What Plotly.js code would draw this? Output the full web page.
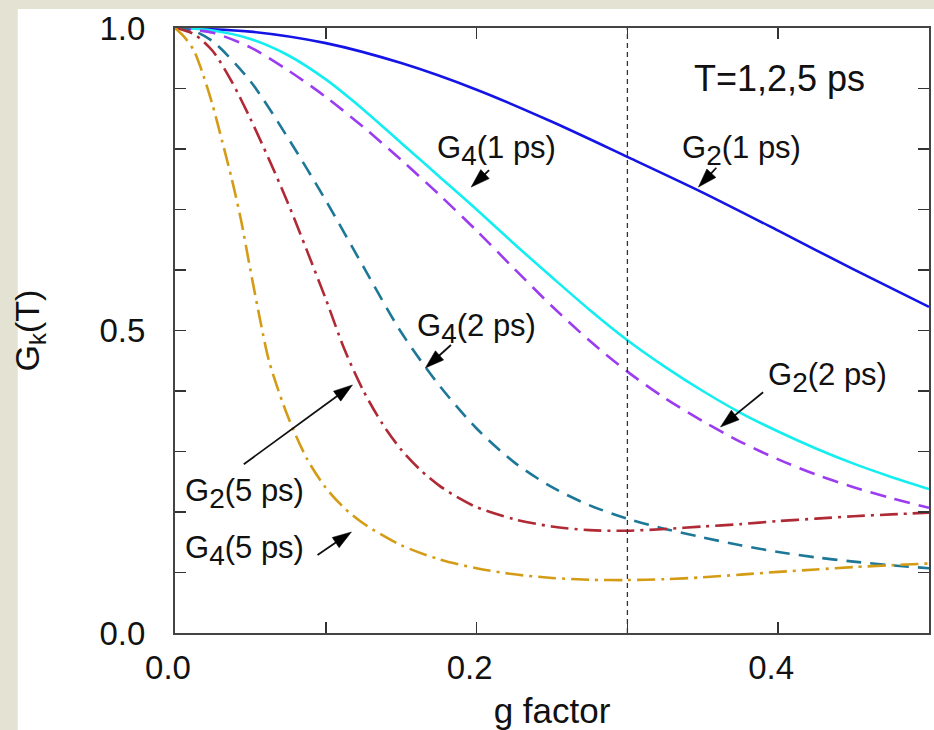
<!DOCTYPE html>
<html>
<head>
<meta charset="utf-8">
<script src="https://cdn.plot.ly/plotly-3.0.1.min.js"></script>
<style>
  html, body { margin: 0; padding: 0; background: #e4e3d3; }
  #chart { width: 934px; height: 730px; }
</style>
</head>
<body>
<div id="chart"></div>
<script>
// ---- data ----
const xG2_1ps = [0, 0.05, 0.1, 0.15, 0.2, 0.25, 0.3, 0.35, 0.4, 0.45, 0.5];
const yG2_1ps = [1.0, 0.994, 0.975, 0.942, 0.898, 0.845, 0.787, 0.728, 0.665, 0.601, 0.539];

const xG4_1ps = [0, 0.025, 0.05, 0.075, 0.1, 0.125, 0.15, 0.175, 0.2, 0.225, 0.25, 0.275, 0.3, 0.325, 0.35, 0.375, 0.4, 0.425, 0.45, 0.475, 0.5];
const yG4_1ps = [1.0, 0.996, 0.982, 0.955, 0.915, 0.865, 0.81, 0.755, 0.70, 0.643, 0.588, 0.534, 0.484, 0.44, 0.40, 0.364, 0.333, 0.305, 0.28, 0.258, 0.238];

const xG2_2ps = [0, 0.025, 0.05, 0.075, 0.1, 0.125, 0.15, 0.175, 0.2, 0.225, 0.25, 0.275, 0.3, 0.325, 0.35, 0.375, 0.4, 0.425, 0.45, 0.475, 0.5];
const yG2_2ps = [1.0, 0.992, 0.968, 0.93, 0.886, 0.836, 0.782, 0.725, 0.665, 0.602, 0.54, 0.483, 0.432, 0.388, 0.35, 0.316, 0.287, 0.262, 0.241, 0.223, 0.207];

const xG4_2ps = [0, 0.0125, 0.025, 0.05, 0.075, 0.1, 0.125, 0.15, 0.175, 0.2, 0.225, 0.25, 0.275, 0.3, 0.325, 0.35, 0.375, 0.4, 0.425, 0.45, 0.475, 0.5];
const yG4_2ps = [1.0, 0.995, 0.978, 0.912, 0.818, 0.715, 0.605, 0.497, 0.41, 0.338, 0.282, 0.241, 0.211, 0.189, 0.172, 0.158, 0.145, 0.134, 0.125, 0.118, 0.112, 0.107];

const xG2_5ps = [0, 0.0125, 0.025, 0.0375, 0.05, 0.0625, 0.075, 0.0875, 0.1, 0.1125, 0.125, 0.1375, 0.15, 0.1625, 0.175, 0.1875, 0.2, 0.225, 0.25, 0.275, 0.3, 0.325, 0.35, 0.375, 0.4, 0.425, 0.45, 0.475, 0.5];
const yG2_5ps = [1.0, 0.99, 0.962, 0.912, 0.85, 0.782, 0.71, 0.632, 0.552, 0.468, 0.40, 0.346, 0.303, 0.27, 0.244, 0.224, 0.208, 0.188, 0.176, 0.17, 0.169, 0.172, 0.176, 0.180, 0.185, 0.189, 0.193, 0.196, 0.199];

const xG4_5ps = [0, 0.00625, 0.0125, 0.01875, 0.025, 0.03125, 0.0375, 0.04375, 0.05, 0.05625, 0.0625, 0.075, 0.0875, 0.1, 0.1125, 0.125, 0.15, 0.175, 0.2, 0.225, 0.25, 0.275, 0.3, 0.325, 0.35, 0.375, 0.4, 0.425, 0.45, 0.475, 0.5];
const yG4_5ps = [1.0, 0.985, 0.963, 0.922, 0.872, 0.813, 0.752, 0.683, 0.60, 0.52, 0.448, 0.357, 0.288, 0.24, 0.206, 0.181, 0.145, 0.122, 0.107, 0.097, 0.091, 0.088, 0.0875, 0.089, 0.092, 0.0965, 0.101, 0.105, 0.109, 0.112, 0.115];

const refG = 0.3;   // dotted reference line

const xTickVals = [0, 0.2, 0.4];
const xTickText = ['0.0', '0.2', '0.4'];
const yTickVals = [0, 0.5, 1.0];
const yTickText = ['0.0', '0.5', '1.0'];
const xMinorStep = 0.1;
const yMinorStep = 0.1;

// labels
const labelTexts = ['G<sub>4</sub>(1 ps)', 'G<sub>2</sub>(1 ps)', 'T=1,2,5 ps', 'G<sub>4</sub>(2 ps)', 'G<sub>2</sub>(2 ps)', 'G<sub>2</sub>(5 ps)', 'G<sub>4</sub>(5 ps)'];
const labelSizes = [31, 31, 36, 31, 31, 31, 31];
const labelX = [0.213, 0.3755, 0.401, 0.1997, 0.4324, 0.0463, 0.0463];
const labelY = [0.798, 0.798, 0.917, 0.504, 0.4215, 0.2298, 0.137];

// arrows: tail -> tip
const arrowTailX = [0.2083, 0.359, 0.183, 0.390, 0.0456, 0.0945];
const arrowTailY = [0.765, 0.769, 0.476, 0.398, 0.279, 0.129];
const arrowTipX = [0.1964, 0.3471, 0.166, 0.3617, 0.1177, 0.117];
const arrowTipY = [0.737, 0.737, 0.438, 0.3405, 0.41, 0.167];

// ---- figure ----
const FONT = 'Liberation Sans, Arial, Helvetica, sans-serif';

function line(x, y, color, dash, name) {
  return { x: x, y: y, type: 'scatter', mode: 'lines', name: name,
           line: { color: color, width: 2.6, dash: dash, shape: 'spline', smoothing: 0.8 },
           hoverinfo: 'skip' };
}

const traces = [
  line(xG2_1ps, yG2_1ps, '#1414e6', 'solid', 'G2(1 ps)'),
  line(xG4_1ps, yG4_1ps, '#14eef0', 'solid', 'G4(1 ps)'),
  line(xG2_2ps, yG2_2ps, '#9c3cf0', '16px,9px', 'G2(2 ps)'),
  line(xG4_2ps, yG4_2ps, '#1d7898', '15px,9px', 'G4(2 ps)'),
  line(xG2_5ps, yG2_5ps, '#b02a36', '18px,6px,3px,6px', 'G2(5 ps)'),
  line(xG4_5ps, yG4_5ps, '#d49c14', '18px,6px,3px,6px', 'G4(5 ps)')
];

for (let i = 0; i < arrowTipX.length; i++) {
  traces.push({ x: [arrowTailX[i], arrowTipX[i]], y: [arrowTailY[i], arrowTipY[i]],
    type: 'scatter', mode: 'lines+markers', hoverinfo: 'skip', showlegend: false,
    line: { color: '#111', width: 1.8 },
    marker: { symbol: 'arrow', size: [0, 20], angleref: 'previous', color: '#000', opacity: 1,
              line: { width: 0.5, color: '#000' } } });
}

const subStyle = (t) => t.replace(/<sub>(.*?)<\/sub>/g, "<sub><span style='font-size:28px'>$1</span></sub>");

const annotations = [];
for (let i = 0; i < labelTexts.length; i++) {
  annotations.push({ x: labelX[i], y: labelY[i], xref: 'x', yref: 'y', text: subStyle(labelTexts[i]),
    showarrow: false, font: { family: FONT, size: labelSizes[i], color: '#111' }, xanchor: 'center', yanchor: 'middle' });
}

const axisCommon = {
  ticks: 'inside', ticklen: 11, tickwidth: 1.5, tickcolor: '#333',
  showline: true, linecolor: '#444', linewidth: 2, mirror: 'ticks',
  showgrid: false, zeroline: false,
  tickfont: { family: FONT, size: 33, color: '#111' }
};

const layout = {
  width: 934, height: 730,
  margin: { l: 175, r: 3, t: 28, b: 97 },
  paper_bgcolor: '#e4e3d3',
  plot_bgcolor: '#ffffff',
  showlegend: false,
  font: { family: FONT, size: 32, color: '#111' },
  xaxis: Object.assign({}, axisCommon, {
    range: [0, 0.5], tickmode: 'array', tickvals: xTickVals, ticktext: xTickText,
    minor: { dtick: xMinorStep, ticks: 'inside', ticklen: 11, tickwidth: 1.5, tickcolor: '#333', showgrid: false },
    ticklabelshift: -7, ticklabelstandoff: 4,
    title: { text: 'g factor', font: { family: FONT, size: 35, color: '#111' } }
  }),
  yaxis: Object.assign({}, axisCommon, {
    range: [0, 1], tickmode: 'array', tickvals: yTickVals, ticktext: yTickText,
    minor: { dtick: yMinorStep, ticks: 'inside', ticklen: 11, tickwidth: 1.5, tickcolor: '#333', showgrid: false },
    ticklabelstandoff: 21,
    automargin: true,
    title: { text: 'G<sub>k</sub>(T)', standoff: 50, font: { family: FONT, size: 34, color: '#111' } }
  }),
  shapes: [
    { type: 'rect', xref: 'paper', yref: 'paper', x0: -0.2085, x1: 1.01, y0: -0.17, y1: 1.0314,
      fillcolor: '#ffffff', line: { width: 0 }, layer: 'below' },
    { type: 'line', xref: 'x', yref: 'paper', x0: refG, x1: refG, y0: 0, y1: 1,
      line: { color: '#333', width: 1.3, dash: '5px,4px' } }
  ],
  annotations: annotations
};

Plotly.newPlot('chart', traces, layout, { displayModeBar: false, staticPlot: true });
</script>
</body>
</html>
